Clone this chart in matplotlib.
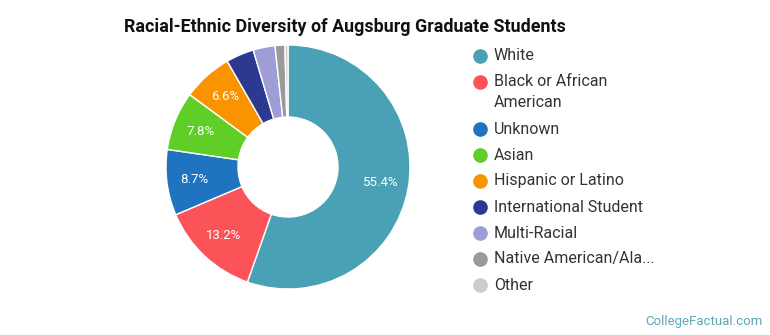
import matplotlib
matplotlib.use("Agg")
import matplotlib.pyplot as plt
import numpy as np

plt.rcParams['font.family'] = ['Roboto', 'DejaVu Sans']

# Data
categories = ["White", "Black or African\nAmerican", "Unknown", "Asian",
              "Hispanic or Latino", "International Student", "Multi-Racial",
              "Native American/Ala...", "Other"]
shares = [55.4, 13.2, 8.7, 7.8, 6.6, 3.7, 2.9, 1.3, 0.4]
colors = ["#4aa0b5", "#fc5359", "#1f74c0", "#5fcf27", "#fa9300",
          "#2b3990", "#9e9dd6", "#9a9a9a", "#cccccc"]

W, H = 770, 335
fig = plt.figure(figsize=(W / 100, H / 100), dpi=100)

# Donut
ax = fig.add_axes([166 / W, (H - 289) / H, 244 / W, 244 / H])
ax.pie(shares, colors=colors, startangle=90, counterclock=False,
       radius=1.0, wedgeprops=dict(width=0.59, edgecolor="white", linewidth=1))
ax.set_xlim(-1, 1)
ax.set_ylim(-1, 1)
ax.set_aspect("equal")
ax.axis("off")

# Percent labels on the bigger slices
cum = np.cumsum([0] + shares[:-1])
for start, val in zip(cum, shares):
    if val < 5:
        continue
    ang = np.deg2rad(90 - (start + val / 2) * 3.6)
    r = 0.77
    ax.text(r * np.cos(ang), r * np.sin(ang), f"{val:.1f}%", ha="center", va="center",
            color="white", fontsize=9.5)

# Title
fig.text(124 / W, 1 - 27 / H, "Racial-Ethnic Diversity of Augsburg Graduate Students",
         fontsize=12.9, fontweight="bold", va="center", ha="left", color="#111111")

# Legend drawn by hand
y = 56
for lab, c in zip(categories, colors):
    fig.add_artist(plt.Line2D([480 / W], [1 - y / H], marker="o", markersize=9.5,
                              color=c, linestyle="none", transform=fig.transFigure))
    lines = lab.split("\n")
    for k, line in enumerate(lines):
        fig.text(494 / W, 1 - (y + 21 * k) / H, line, fontsize=11.5, color="#333333",
                 va="center", ha="left")
    y += 26 + 21 * (len(lines) - 1)

# Watermark
fig.text(763 / W, 1 - 321 / H, "CollegeFactual.com", ha="right", va="center",
         fontsize=9.5, color="#5aa7b8")

fig.savefig("out.png", dpi=100)
